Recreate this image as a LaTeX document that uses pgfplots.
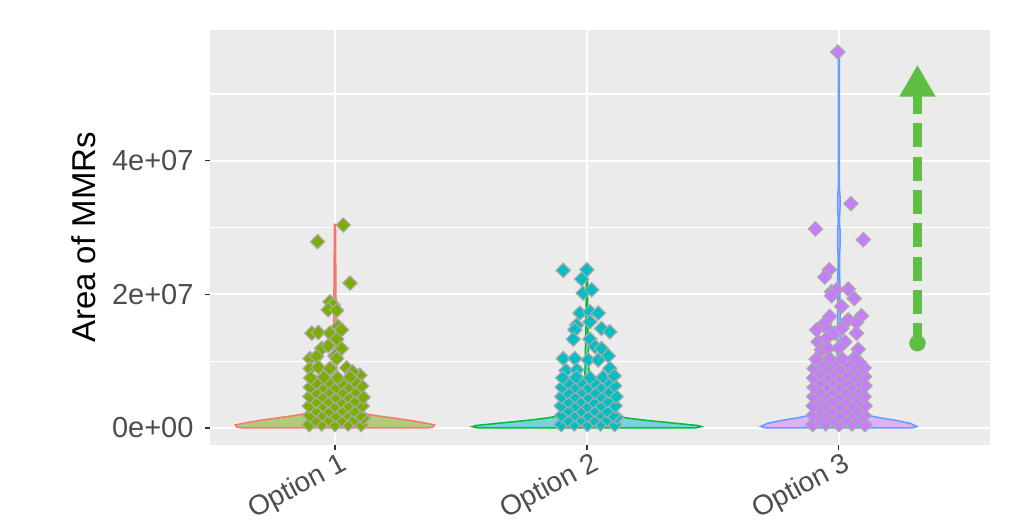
\documentclass[border=0pt]{standalone}
\usepackage{fontspec}
\setmainfont{Liberation Sans}
\usepackage{pgfplots}
\pgfplotsset{compat=1.18}
\usetikzlibrary{arrows.meta}
\definecolor{panelbg}{HTML}{EBEBEB}
\definecolor{tickgray}{HTML}{333333}
\definecolor{labelgray}{HTML}{4D4D4D}
\definecolor{vline1}{HTML}{F8766D}
\definecolor{vline2}{HTML}{00BA38}
\definecolor{vline3}{HTML}{619CFF}
\definecolor{vfill1}{HTML}{B3CB77}
\definecolor{vfill2}{HTML}{77D4D6}
\definecolor{vfill3}{HTML}{D9B3F5}
\definecolor{pt1}{HTML}{7CAE00}
\definecolor{pt2}{HTML}{00BFC4}
\definecolor{pt3}{HTML}{C77CFF}
\definecolor{ptout}{HTML}{A8A8A8}
\definecolor{arrowgreen}{HTML}{5FBF45}

\pgfplotstableread{
x y
1.033 3.04e7
0.931 2.79e7
1.060 2.17e7
0.980 1.89e7
0.993 1.84e7
0.973 1.77e7
1.007 1.76e7
1.013 1.52e7
1.026 1.47e7
0.908 1.42e7
0.934 1.43e7
0.980 1.42e7
1.007 1.33e7
0.947 1.19e7
0.973 1.23e7
1.026 1.19e7
0.901 1.04e7
0.927 1.07e7
1.000 1.08e7
1.007 1.04e7
0.901 8.9e6
0.934 9.1e6
0.980 8.9e6
1.046 9.0e6
1.099 7.9e6
1.070 8.4e6
0.898 0.5e6
0.948 0.6e6
1.000 0.5e6
1.052 0.6e6
1.104 0.5e6
0.922 1.2e6
0.975 1.3e6
1.026 1.2e6
1.078 1.3e6
1.112 1.5e6
0.900 1.9e6
0.950 2.0e6
1.003 1.9e6
1.048 2.1e6
1.100 1.9e6
0.924 2.7e6
0.977 2.6e6
1.028 2.7e6
1.076 2.6e6
0.898 3.3e6
0.952 3.4e6
1.000 3.3e6
1.054 3.4e6
1.108 3.3e6
0.926 4.0e6
0.974 4.1e6
1.024 4.0e6
1.080 4.1e6
1.112 4.6e6
0.900 4.7e6
0.950 4.8e6
1.002 4.7e6
1.050 4.8e6
0.924 5.4e6
0.978 5.5e6
1.030 5.4e6
1.082 5.5e6
0.902 6.1e6
0.952 6.2e6
1.004 6.1e6
1.056 6.2e6
1.106 6.3e6
0.926 6.8e6
0.976 6.9e6
1.026 6.8e6
1.078 7.0e6
0.904 7.5e6
0.956 7.6e6
1.010 7.5e6
1.060 7.6e6
}\ptsA

\pgfplotstableread{
x y
1.906 2.36e7
2.000 2.37e7
1.979 2.23e7
1.985 2.02e7
2.019 2.07e7
1.972 1.72e7
2.012 1.74e7
2.045 1.72e7
2.012 1.59e7
1.959 1.54e7
1.952 1.47e7
2.058 1.49e7
2.091 1.44e7
1.946 1.33e7
2.012 1.33e7
2.032 1.22e7
2.058 1.19e7
2.085 1.08e7
1.906 1.04e7
1.952 1.04e7
2.005 1.02e7
2.045 1.02e7
2.091 8.9e6
1.917 8.6e6
1.960 8.7e6
1.898 0.5e6
1.950 0.6e6
2.002 0.5e6
2.054 0.6e6
2.110 0.5e6
1.924 1.2e6
1.976 1.3e6
2.028 1.2e6
2.080 1.3e6
2.118 1.6e6
1.900 1.9e6
1.952 2.0e6
2.004 1.9e6
2.052 2.1e6
2.104 1.9e6
1.926 2.7e6
1.978 2.6e6
2.030 2.7e6
2.080 2.6e6
1.898 3.3e6
1.954 3.4e6
2.002 3.3e6
2.056 3.4e6
2.112 3.3e6
1.926 4.0e6
1.976 4.1e6
2.026 4.0e6
2.082 4.1e6
2.116 4.7e6
1.900 4.7e6
1.952 4.8e6
2.004 4.7e6
2.054 4.8e6
1.924 5.4e6
1.980 5.5e6
2.032 5.4e6
2.086 5.5e6
1.902 6.1e6
1.954 6.2e6
2.006 6.1e6
2.058 6.2e6
2.110 6.3e6
1.926 6.8e6
1.978 6.9e6
2.028 6.8e6
2.080 7.0e6
1.904 7.5e6
1.958 7.6e6
2.012 7.5e6
2.064 7.6e6
2.108 7.8e6
}\ptsB

\pgfplotstableread{
x y
2.996 5.63e7
3.048 3.36e7
2.907 2.98e7
3.097 2.82e7
2.962 2.37e7
2.944 2.26e7
2.971 2.04e7
2.991 2.07e7
3.037 2.08e7
3.061 1.94e7
2.971 1.98e7
3.011 1.82e7
3.090 1.68e7
2.964 1.67e7
2.944 1.57e7
3.037 1.62e7
3.070 1.58e7
2.912 1.47e7
2.958 1.47e7
2.984 1.42e7
3.011 1.49e7
3.070 1.42e7
2.918 1.29e7
2.951 1.34e7
3.024 1.29e7
3.077 1.18e7
2.931 1.17e7
2.958 1.19e7
3.000 1.20e7
2.896 0.5e6
2.948 0.6e6
3.000 0.5e6
3.052 0.6e6
3.104 0.5e6
2.922 1.2e6
2.974 1.3e6
3.026 1.2e6
3.078 1.3e6
2.898 1.9e6
2.950 2.0e6
3.002 1.9e6
3.050 2.1e6
3.100 1.9e6
2.924 2.7e6
2.976 2.6e6
3.028 2.7e6
3.076 2.6e6
2.898 3.3e6
2.952 3.4e6
3.000 3.3e6
3.054 3.4e6
3.104 3.3e6
2.926 4.0e6
2.974 4.1e6
3.024 4.0e6
3.080 4.1e6
2.900 4.7e6
2.950 4.8e6
3.002 4.7e6
3.050 4.8e6
3.100 4.7e6
2.924 5.4e6
2.978 5.5e6
3.030 5.4e6
3.082 5.5e6
2.902 6.1e6
2.952 6.2e6
3.004 6.1e6
3.056 6.2e6
3.104 6.3e6
2.926 6.8e6
2.976 6.9e6
3.026 6.8e6
3.078 7.0e6
2.900 7.5e6
2.956 7.6e6
3.010 7.5e6
3.060 7.6e6
3.102 7.7e6
2.924 8.2e6
2.978 8.3e6
3.030 8.2e6
3.080 8.4e6
2.902 8.9e6
2.954 9.0e6
3.006 8.9e6
3.056 9.1e6
3.100 9.0e6
2.926 9.6e6
2.980 9.7e6
3.034 9.6e6
3.082 9.8e6
2.910 10.3e6
2.962 10.4e6
3.014 10.3e6
3.062 10.5e6
}\ptsC

\begin{document}
\begin{tikzpicture}
\path[fill=white, use as bounding box] (-210pt,-77pt) rectangle (802pt,445pt);
\begin{axis}[
  at={(0,0)}, anchor=south west,
  width=780pt, height=415pt, scale only axis,
  xmin=0.504, xmax=3.6, ymin=-2.55e6, ymax=5.96e7,
  axis background/.style={fill=panelbg},
  axis line style={draw=none},
  xtick={1,2,3}, xticklabels={Option 1,Option 2,Option 3},
  ytick={0,2e7,4e7}, yticklabels={0e+00,2e+07,4e+07},
  minor ytick={1e7,3e7,5e7},
  scaled y ticks=false,
  grid=both,
  major grid style={white, line width=2pt},
  minor grid style={white, line width=1.2pt},
  tick align=outside, major tick length=5pt, minor tick length=0pt,
  tick style={color=tickgray, line width=1.2pt},
  xtick pos=bottom, ytick pos=left,
  ticklabel style={text=labelgray},
  yticklabel style={font=\fontsize{29}{34}\selectfont, xshift=-8pt},
  xticklabel style={font=\fontsize{28}{32}\selectfont, rotate=28, anchor=north east, xshift=6pt, yshift=1pt},
  ylabel={Area of MMRs},
  ylabel style={font=\fontsize{33}{38}\selectfont, text=black, at={(axis description cs:0,0.5)}, anchor=center, rotate=0, yshift=126pt},
  clip=true,
]
% violins
\addplot[draw=vline1, line width=1.5pt, fill=vfill1] coordinates {
(1.370,0) (1.390,0.15e6) (1.395,0.45e6) (1.357,0.75e6) (1.300,1.12e6) (1.230,1.5e6) (1.160,1.87e6) (1.100,2.25e6) (1.055,2.8e6) (1.030,3.5e6) (1.015,5e6) (1.006,1e7) (1.004,2e7) (1.002,3.05e7)
(0.998,3.05e7) (0.996,2e7) (0.994,1e7) (0.985,5e6) (0.970,3.5e6) (0.945,2.8e6) (0.900,2.25e6) (0.840,1.87e6) (0.770,1.5e6) (0.700,1.12e6) (0.643,0.75e6) (0.605,0.45e6) (0.610,0.15e6) (0.630,0)
} -- cycle;
\addplot[draw=vline2, line width=1.5pt, fill=vfill2] coordinates {
(2.430,0) (2.455,0.2e6) (2.440,0.37e6) (2.340,0.75e6) (2.240,1.12e6) (2.167,1.45e6) (2.110,1.8e6) (2.060,2.3e6) (2.030,3e6) (2.015,4.5e6) (2.008,8e6) (2.004,1.5e7) (2.002,2.37e7)
(1.998,2.37e7) (1.996,1.5e7) (1.992,8e6) (1.985,4.5e6) (1.970,3e6) (1.940,2.3e6) (1.890,1.8e6) (1.833,1.45e6) (1.760,1.12e6) (1.660,0.75e6) (1.560,0.37e6) (1.545,0.2e6) (1.570,0)
} -- cycle;
\addplot[draw=vline3, line width=1.5pt, fill=vfill3] coordinates {
(3.290,0) (3.310,0.22e6) (3.285,0.67e6) (3.230,1.12e6) (3.167,1.5e6) (3.127,1.8e6) (3.080,2.25e6) (3.040,3e6) (3.020,4e6) (3.010,6e6) (3.006,1.2e7) (3.004,2.0e7) (3.003,2.6e7) (3.005,2.75e7) (3.005,2.95e7) (3.002,3.1e7) (3.005,3.3e7) (3.005,3.45e7) (3.002,3.6e7) (3.002,5.63e7)
(2.998,5.63e7) (2.998,3.6e7) (2.995,3.45e7) (2.995,3.3e7) (2.998,3.1e7) (2.995,2.95e7) (2.995,2.75e7) (2.997,2.6e7) (2.996,2.0e7) (2.994,1.2e7) (2.990,6e6) (2.980,4e6) (2.960,3e6) (2.920,2.25e6) (2.873,1.8e6) (2.833,1.5e6) (2.770,1.12e6) (2.715,0.67e6) (2.690,0.22e6) (2.710,0)
} -- cycle;
% points
\addplot[only marks, mark=square*, mark size=5pt, mark options={rotate=45, fill=pt1, draw=ptout, line width=1.2pt}] table[x=x,y=y] {\ptsA};
\addplot[only marks, mark=square*, mark size=5pt, mark options={rotate=45, fill=pt2, draw=ptout, line width=1.2pt}] table[x=x,y=y] {\ptsB};
\addplot[only marks, mark=square*, mark size=5pt, mark options={rotate=45, fill=pt3, draw=ptout, line width=1.2pt}] table[x=x,y=y] {\ptsC};
% arrow
\addplot[arrowgreen, line width=9pt, dash pattern=on 24pt off 9.3pt, dash phase=4pt, -{Triangle[length=32pt, width=34pt]}] coordinates {(3.312,1.27e7) (3.312,5.44e7)};
\addplot[only marks, mark=*, mark size=8pt, arrowgreen] coordinates {(3.312,1.27e7)};
\end{axis}
\end{tikzpicture}
\end{document}
